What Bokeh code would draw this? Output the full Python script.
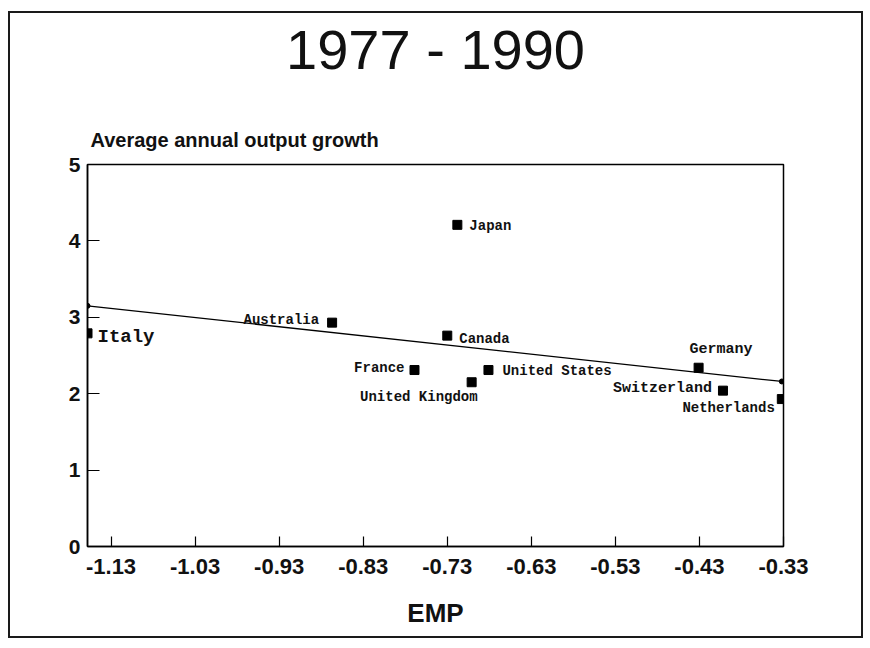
from bokeh.plotting import figure
from bokeh.models import (ColumnDataSource, Range1d, FixedTicker, Title,
                          PrintfTickFormatter)
from bokeh.core.properties import value
from bokeh.embed import file_html
from bokeh.resources import INLINE

# --- data -------------------------------------------------------------
countries = ["Italy", "Australia", "France", "United Kingdom", "Japan",
             "Canada", "United States", "Germany", "Switzerland", "Netherlands"]
emp = [-1.158, -0.867, -0.769, -0.701, -0.718, -0.730, -0.681, -0.431, -0.402, -0.332]
growth = [2.79, 2.93, 2.31, 2.15, 4.21, 2.76, 2.31, 2.34, 2.04, 1.93]

# fitted regression line (end points at the frame edges)
fit_emp = [-1.158, -0.332]
fit_growth = [3.15, 2.16]

x_ticks = [-1.13, -1.03, -0.93, -0.83, -0.73, -0.63, -0.53, -0.43, -0.33]
y_ticks = [0, 1, 2, 3, 4, 5]

# --- label placement (pixel offsets, alignment, size) -------------------
label_style = {
    "Italy":          (10, 4, "left", "19px"),
    "Australia":      (-13, -3, "right", "14px"),
    "France":         (-10, -2, "right", "14px"),
    "United Kingdom": (6, 15, "right", "14px"),
    "Japan":          (12, 1, "left", "14px"),
    "Canada":         (12, 3, "left", "14px"),
    "United States":  (14, 1, "left", "14px"),
    "Germany":        (-9, -18, "left", "15px"),
    "Switzerland":    (-11, -2, "right", "15px"),
    "Netherlands":    (-7, 9, "right", "14px"),
}

src = ColumnDataSource(dict(
    x=emp, y=growth, name=countries,
    dx=[label_style[c][0] for c in countries],
    dy=[label_style[c][1] for c in countries],
    align=[label_style[c][2] for c in countries],
    size=[label_style[c][3] for c in countries],
))

# the canvas sits inside a 2px page border that starts at (8, 11)
p = figure(width=855, height=627, output_backend="svg", toolbar_location=None,
           x_range=Range1d(-1.158, -0.33), y_range=Range1d(0, 5),
           min_border_left=77, min_border_right=82,
           min_border_top=151, min_border_bottom=94)
p.margin = (11, 0, 0, 8)
p.styles = {"border": "2px solid #1a1a1a"}
p.background_fill_color = "white"
p.border_fill_color = "white"
p.xgrid.visible = False
p.ygrid.visible = False
p.outline_line_color = "black"
p.outline_line_width = 1.5

xa = p.xaxis[0]
xa.ticker = FixedTicker(ticks=x_ticks)
xa.formatter = PrintfTickFormatter(format="%.2f")
xa.major_tick_in = 10
xa.major_tick_out = 0
xa.minor_tick_line_color = None
xa.axis_line_width = 1.5
xa.major_tick_line_width = 1.2
xa.major_label_text_font = "Liberation Sans"
xa.major_label_text_font_style = "bold"
xa.major_label_text_font_size = "22px"
xa.major_label_text_color = "#111111"
xa.major_label_standoff = 12
xa.axis_label = "EMP"
xa.axis_label_text_font = "Liberation Sans"
xa.axis_label_text_font_style = "bold"
xa.axis_label_text_font_size = "26px"
xa.axis_label_text_color = "#111111"
xa.axis_label_standoff = 21

ya = p.yaxis[0]
ya.ticker = FixedTicker(ticks=y_ticks)
ya.major_tick_in = 12
ya.major_tick_out = 0
ya.minor_tick_line_color = None
ya.axis_line_width = 1.5
ya.major_tick_line_width = 1.2
ya.major_label_text_font = "Liberation Sans"
ya.major_label_text_font_style = "bold"
ya.major_label_text_font_size = "21px"
ya.major_label_text_color = "#111111"
ya.major_label_standoff = 7

# regression line with small end dots
p.line(fit_emp, fit_growth, line_color="black", line_width=1.3)
p.scatter(fit_emp, fit_growth, size=5, color="black")

# country markers and names
p.scatter("x", "y", source=src, marker="square", size=9, color="black")
p.text("x", "y", text="name", source=src, x_offset="dx", y_offset="dy",
       text_align="align", text_baseline="middle", text_font_size="size",
       text_font=value("Liberation Mono"), text_font_style="bold",
       text_color="#111111")

# above the frame: y-axis caption, a blank spacer band, then the main title
p.add_layout(Title(text="Average annual output growth", align="left", offset=3,
                   standoff=28, text_font="Liberation Sans", text_font_style="bold",
                   text_font_size="20px", text_color="#111111"), "above")
p.add_layout(Title(text=" ", standoff=23, text_font_size="1px"), "above")
p.add_layout(Title(text="1977 - 1990", align="center", standoff=8,
                   vertical_align="top",
                   text_font="Liberation Sans", text_font_style="normal",
                   text_font_size="56px", text_color="#111111"), "above")

open("out.html", "w").write(file_html(p, INLINE))
